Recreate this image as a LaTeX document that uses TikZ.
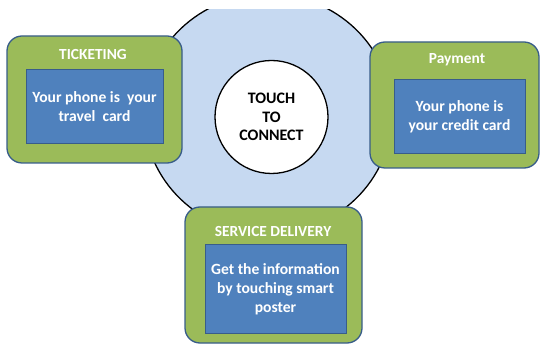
\documentclass[tikz,border=0pt]{standalone}
\usepackage{fontspec}
\setmainfont{Carlito}
\usetikzlibrary{shapes.geometric}
\definecolor{boxgreen}{HTML}{9BBB59}
\definecolor{boxblue}{HTML}{4F81BD}
\definecolor{edgeblue}{HTML}{385D8A}
\definecolor{ringblue}{HTML}{C6D9F1}
\begin{document}
\begin{tikzpicture}[x=1pt,y=-1pt,
  outerbox/.style={draw=edgeblue,line width=1.3pt,fill=boxgreen,rounded corners=15pt,inner sep=0pt},
  innerbox/.style={draw=edgeblue,line width=1pt,fill=boxblue,inner sep=0pt,align=center,text=white,font=\bfseries\fontsize{15.6}{19}\selectfont},
  titletext/.style={text=white,font=\bfseries\fontsize{15.4}{18}\selectfont,inner sep=0pt},
  hub/.style={circle,draw=black,line width=1.3pt,fill=white,minimum size=113pt,inner sep=0pt,align=center,font=\bfseries\fontsize{16}{18.5}\selectfont}]
\useasboundingbox (0,0) rectangle (540,344);
\begin{scope}
  \clip (0,10) rectangle (540,344);
  \node[ellipse,draw=black,line width=1.3pt,fill=ringblue,minimum width=248pt,minimum height=240pt,inner sep=0pt] (ring) at (268,114) {};
\end{scope}
\node[hub] (hub) at (271.5,117) {TOUCH\\TO\\CONNECT};
% Ticketing
\node[outerbox,minimum width=175pt,minimum height=127pt] (tick) at (94.5,99.5) {};
\node[titletext] (tickt) at (93,54.5) {TICKETING};
\node[innerbox,minimum width=137pt,minimum height=74pt] (tickb) at (94.5,107) {Your phone is\ \ your\\travel\ \ card};
% Payment
\node[outerbox,minimum width=169pt,minimum height=126pt] (pay) at (454.5,105) {};
\node[titletext] (payt) at (457,59.5) {Payment};
\node[innerbox,minimum width=131pt,minimum height=74pt] (payb) at (459.5,117) {Your phone is\\your credit card};
% Service delivery
\node[outerbox,minimum width=177pt,minimum height=136pt] (serv) at (273.5,275) {};
\node[titletext] (servt) at (273,232) {SERVICE DELIVERY};
\node[innerbox,minimum width=141pt,minimum height=88pt] (servb) at (275.5,289) {Get the information\\by touching smart\\poster};
\end{tikzpicture}
\end{document}
